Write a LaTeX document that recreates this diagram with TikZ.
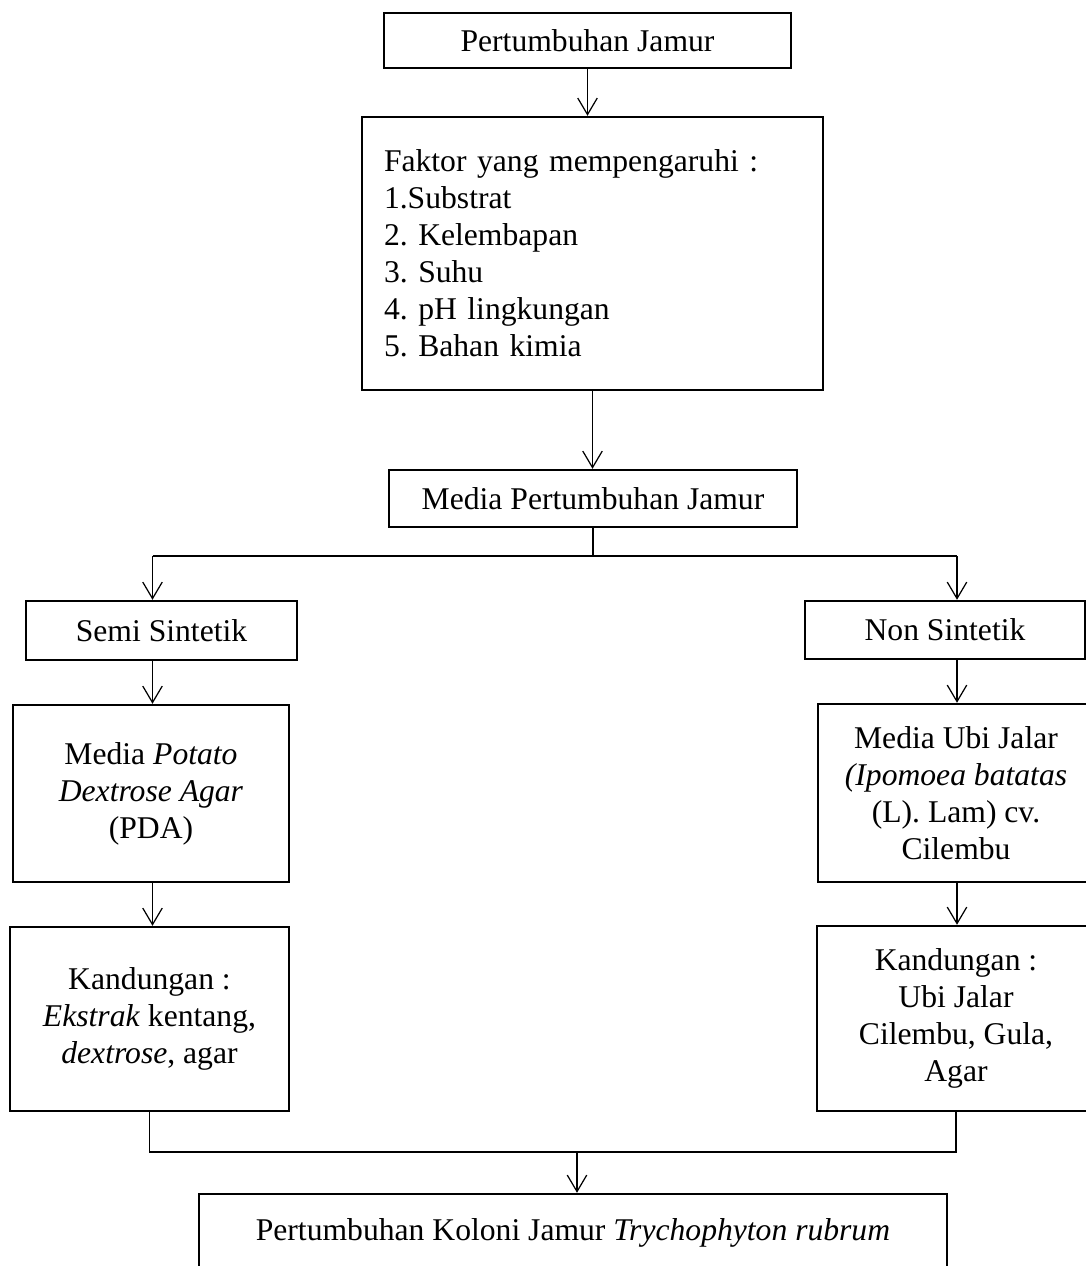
\documentclass[tikz,border=0pt]{standalone}
\usepackage{fontspec}
\setmainfont{Liberation Serif}
\frenchspacing
\usetikzlibrary{arrows.meta, positioning, calc}

\begin{document}
\begin{tikzpicture}[
		every node/.style={font=\fontsize{18}{21}\selectfont},
		% Box with thick border
		kotak/.style={draw, line width=1.4pt, inner sep=0pt, align=center},
		% Thin open arrow
		panah/.style={-{Straight Barb[length=3.3mm, width=3.9mm]}, line width=0.7pt},
		% Branch lines
		garis/.style={line width=1pt}
		]
		
		\useasboundingbox (0,0) rectangle (21.72,-25.32);
		
		% === NODES ===
		
		% Top column
		\node[kotak, minimum width=8.14cm, minimum height=1.10cm] (judul) at (11.75,-0.81) {Pertumbuhan Jamur};
		
		\node[kotak, align=left, text width=8.34cm, inner xsep=0.44cm, minimum height=5.46cm] (faktor) at (11.85,-5.07)
		{Faktor yang mempengaruhi :\\1.Substrat\\2. Kelembapan\\3. Suhu\\4. pH lingkungan\\5. Bahan kimia};
		
		\node[kotak, minimum width=8.16cm, minimum height=1.14cm] (media) at (11.86,-9.97) {Media Pertumbuhan Jamur};
		
		% Left column
		\node[kotak, minimum width=5.42cm, minimum height=1.18cm] (semi) at (3.23,-12.61) {Semi Sintetik};
		\node[kotak, minimum width=5.52cm, minimum height=3.54cm] (pda) at (3.02,-15.87)
		{Media \textit{Potato}\\\textit{Dextrose Agar}\\(PDA)};
		\node[kotak, minimum width=5.58cm, minimum height=3.68cm] (kandKiri) at (2.99,-20.38)
		{Kandungan :\\\textit{Ekstrak} kentang,\\\textit{dextrose}, agar};
		
		% Right column
		\node[kotak, minimum width=5.60cm, minimum height=1.16cm] (non) at (18.90,-12.60) {Non Sintetik};
		\node[kotak, minimum width=5.52cm, minimum height=3.56cm] (ubi) at (19.12,-15.86)
		{Media Ubi Jalar\\\textit{(Ipomoea batatas}\\(L). Lam) cv.\\Cilembu};
		\node[kotak, minimum width=5.56cm, minimum height=3.70cm] (kandKanan) at (19.12,-20.37)
		{Kandungan :\\Ubi Jalar\\Cilembu, Gula,\\Agar};
		
		% Result
		\node[kotak, minimum width=14.96cm, minimum height=1.56cm] (hasil) at (11.46,-24.66)
		{Pertumbuhan Koloni Jamur \textit{Trychophyton rubrum}};
		
		% Branch points
		\coordinate (cabangKiri) at (3.05,-11.12);
		\coordinate (cabangKanan) at (19.14,-11.12);
		\coordinate (gabung) at (11.54,-23.04);
		
		% === ARROWS ===
		
		\draw[panah] (judul.south) -- (judul.south |- faktor.north);
		\draw[panah] (faktor.south) -- (faktor.south |- media.north);
		
		% split into two media
		\draw[garis] (media.south) -- (media.south |- cabangKiri);
		\draw[garis] (cabangKiri) -- (cabangKanan);
		\draw[panah] (cabangKiri) -- (cabangKiri |- semi.north);
		\draw[panah] (cabangKanan) -- (cabangKanan |- non.north);
		
		\draw[panah] (semi.south -| cabangKiri) -- (pda.north -| cabangKiri);
		\draw[panah] (pda.south -| cabangKiri) -- (kandKiri.north -| cabangKiri);
		
		\draw[panah] (non.south -| cabangKanan) -- (ubi.north -| cabangKanan);
		\draw[panah] (ubi.south -| cabangKanan) -- (kandKanan.north -| cabangKanan);
		
		% join to result
		\draw[garis] (kandKiri.south) |- (gabung) -| (kandKanan.south);
		\draw[panah] (gabung) -- (gabung |- hasil.north);
		
	\end{tikzpicture}
\end{document}
